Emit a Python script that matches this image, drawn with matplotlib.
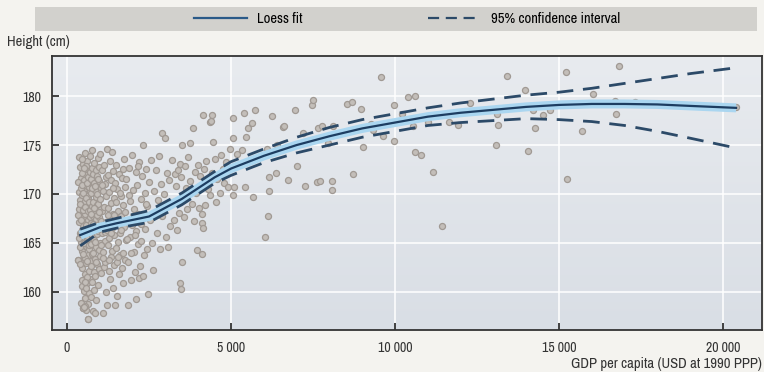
import numpy as np
import matplotlib
matplotlib.use("Agg")
import matplotlib.pyplot as plt
from matplotlib import font_manager
from matplotlib.lines import Line2D
from matplotlib.patches import Rectangle
from matplotlib.ticker import FuncFormatter

# prefer a narrow sans if one happens to be installed
narrow = [f.name for f in font_manager.fontManager.ttflist
          if 'Narrow' in f.name or 'Condensed' in f.name]
plt.rcParams['font.family'] = narrow[:1] + ['Liberation Sans', 'DejaVu Sans']

# ---- scatter data: (GDP per capita, height in cm), grouped by income band ----
pts_poorest = [
    (320, 163.3), (350, 168.5), (360, 170.2), (380, 166.0), (390, 172.8), (400, 169.4),
    (410, 165.1), (420, 171.6), (430, 167.7), (440, 173.6), (450, 160.6), (455, 164.2),
    (460, 169.9), (470, 162.4), (480, 171.0), (485, 166.8), (490, 158.3), (500, 173.1),
    (505, 168.2), (510, 160.1), (520, 165.6), (525, 170.5), (530, 163.1), (540, 167.2),
    (545, 172.3), (550, 174.2), (555, 159.4), (560, 161.8), (565, 169.1), (570, 164.7),
    (575, 171.9), (580, 166.3), (585, 158.1), (590, 162.9), (600, 170.8), (605, 168.6),
    (610, 165.4), (615, 173.4), (620, 160.9), (625, 167.9), (630, 163.8), (640, 171.3),
    (645, 157.2), (650, 169.6), (655, 166.9), (660, 162.1), (665, 172.6), (670, 164.4),
    (675, 159.9), (680, 168.0), (690, 170.3), (695, 165.8), (700, 161.3),
    (340, 171.2), (365, 167.1), (395, 164.6), (425, 170.6), (445, 168.9), (465, 172.1),
    (495, 167.5), (515, 171.4), (535, 169.3), (548, 166.1), (568, 172.9), (588, 167.4),
    (598, 164.9), (618, 169.8), (635, 171.7), (648, 167.3), (662, 170.7), (685, 172.2),
    (372, 173.8), (432, 158.9), (462, 161.2), (508, 163.6), (558, 163.5), (578, 160.4),
    (612, 161.5), (652, 158.8), (688, 163.2), (540, 158.6), (450, 173.6), (500, 158.3),
    (520, 158.5), (650, 157.2), (345, 163.3), (470, 166.3), (600, 166.7), (560, 168.0),
    (330, 167.9), (355, 165.5), (385, 169.0), (405, 162.8), (415, 167.3), (435, 165.9),
    (458, 170.9), (475, 168.4), (488, 163.9), (498, 170.1), (512, 165.0), (528, 172.7),
    (538, 161.0), (552, 168.7), (572, 166.8), (583, 169.6), (594, 171.1), (608, 163.2),
    (622, 165.7), (638, 168.3), (658, 164.8), (672, 169.2), (692, 167.6),
]

pts_low = [
    (705, 173.9), (710, 168.4), (715, 164.9), (720, 171.5), (725, 162.6), (730, 167.0),
    (735, 170.1), (740, 159.5), (745, 165.7), (750, 172.7), (755, 168.8), (760, 163.9),
    (765, 161.0), (770, 174.5), (775, 166.4), (780, 170.9), (785, 158.0), (790, 169.2),
    (795, 164.0), (800, 172.0), (805, 167.8), (810, 162.0), (815, 160.2), (820, 171.1),
    (825, 165.3), (830, 173.2), (835, 168.1), (840, 163.4), (845, 170.4), (850, 157.8),
    (855, 166.6), (860, 161.6), (870, 169.7), (875, 172.4), (880, 164.6), (885, 167.4),
    (890, 159.2), (900, 171.8), (905, 165.9), (910, 170.0), (920, 162.8), (925, 168.9),
    (930, 173.7), (940, 166.2), (945, 160.7), (950, 169.0), (960, 164.3), (965, 171.3),
    (970, 167.6), (980, 162.3), (985, 172.8), (990, 165.0), (1000, 169.5), (1010, 174.1),
    (1015, 163.7), (1020, 167.2), (1030, 170.6), (1040, 161.9), (1050, 166.0), (1060, 172.5),
    (1070, 168.3), (1080, 164.1), (1090, 157.8), (1100, 170.3), (1110, 166.8), (1120, 173.0),
    (1130, 162.5), (1140, 168.7), (1150, 165.2), (1160, 171.0), (1170, 163.0), (1180, 167.1),
    (1190, 169.8), (1200, 160.0),
    (712, 166.2), (738, 168.0), (762, 170.6), (788, 166.9), (812, 168.6), (838, 165.1),
    (862, 170.8), (888, 163.1), (912, 167.9), (938, 171.5), (962, 168.2), (988, 166.4),
    (1025, 164.8), (1065, 170.9), (1105, 163.5), (1145, 166.1), (1185, 171.7),
    (1210, 174.6), (1220, 166.3), (1230, 158.7), (1240, 171.9), (1250, 164.8), (1260, 168.6),
    (1270, 162.1), (1280, 170.2), (1290, 165.5), (1300, 173.4), (1310, 167.0), (1320, 161.3),
    (1330, 169.1), (1340, 163.6), (1350, 171.4), (1360, 166.5), (1370, 174.3), (1380, 164.2),
    (1390, 168.0), (1400, 160.4), (1410, 172.3), (1420, 165.8), (1430, 169.6), (1440, 162.7),
    (1450, 167.4), (1460, 158.7), (1470, 171.1), (1480, 164.5), (1490, 166.9), (1500, 173.0),
    (1515, 159.6), (1520, 163.0), (1530, 170.5), (1545, 165.1), (1560, 168.3), (1575, 161.8),
    (1590, 172.0), (1600, 166.0), (1615, 163.8), (1630, 169.8), (1645, 167.7), (1660, 162.4),
    (1675, 171.6), (1690, 164.0), (1700, 168.9), (1715, 160.9), (1730, 166.6), (1745, 173.6),
    (1760, 163.3), (1775, 170.7), (1790, 165.3),
    (1235, 167.9), (1285, 163.3), (1335, 166.0), (1385, 170.6), (1435, 167.9), (1485, 169.2),
    (1555, 163.6), (1605, 170.1), (1655, 166.3), (1705, 172.6), (1755, 168.2),
]

pts_lower_mid = [
    (1810, 171.5), (1830, 167.2), (1850, 163.1), (1870, 158.7), (1890, 172.7), (1910, 165.6),
    (1930, 169.3), (1950, 161.2), (1970, 174.0), (1990, 166.8), (2010, 170.4), (2030, 164.1),
    (2050, 168.5), (2070, 162.0), (2090, 172.2), (2100, 159.3), (2110, 166.2), (2130, 170.9),
    (2150, 164.9), (2170, 168.0), (2190, 173.3), (2200, 161.4), (2220, 162.6), (2240, 169.5),
    (2260, 165.2), (2280, 171.8), (2300, 167.5), (2330, 175.0), (2350, 163.8), (2370, 170.1),
    (2390, 166.4), (2410, 172.6), (2430, 164.4), (2450, 168.8), (2480, 159.8), (2490, 171.2),
    (1820, 165.4), (1880, 169.9), (1940, 164.0), (2020, 167.8), (2080, 165.8), (2160, 172.9),
    (2250, 166.9), (2320, 161.6), (2400, 169.0),
    (2520, 167.3), (2550, 173.5), (2580, 165.0), (2630, 162.2), (2650, 170.3), (2680, 168.1),
    (2700, 172.4), (2730, 166.0), (2760, 169.4), (2790, 173.9), (2820, 164.4), (2850, 171.0),
    (2890, 176.2), (2900, 167.7), (2940, 170.0), (2990, 175.7), (3010, 165.6), (3040, 172.1),
    (3060, 168.9), (3090, 164.6), (3120, 171.4), (3150, 166.7), (3190, 173.5), (3220, 169.2),
    (3250, 167.3), (3280, 172.0),
    (3320, 170.8), (3350, 166.3), (3380, 172.5), (3400, 168.1), (3450, 173.1), (3450, 160.9),
    (3460, 160.3), (3480, 171.7), (3500, 163.0), (3500, 175.0), (3530, 169.5), (3560, 167.6),
    (3600, 172.9), (3630, 170.6), (3660, 168.5), (3700, 173.8), (3750, 175.2), (3760, 171.3),
    (3800, 169.0), (3850, 176.7), (3860, 167.2), (3900, 172.2), (3940, 170.1), (3970, 164.3),
    (3990, 173.0), (4020, 168.6), (4060, 171.8), (4100, 163.9), (4120, 168.0), (4120, 167.0),
    (4140, 178.1), (4150, 166.5), (4170, 172.6),
]

pts_upper_mid = [
    (4210, 168.9), (4250, 173.4), (4300, 170.5), (4360, 177.4), (4360, 169.9), (4380, 177.5),
    (4410, 178.1), (4420, 172.1), (4460, 175.3), (4500, 173.6), (4540, 169.2), (4580, 171.5),
    (4660, 170.1), (4700, 174.0), (4760, 172.6), (4800, 171.1), (4850, 173.3), (4900, 170.7),
    (4960, 174.6), (5050, 177.8), (5070, 175.7), (5070, 169.9), (5100, 170.7), (5190, 174.1),
    (5330, 174.5), (5380, 178.3), (5430, 170.7), (5460, 175.8), (5530, 176.7), (5630, 177.3),
    (5680, 169.7), (5730, 178.6), (6040, 165.6), (6090, 174.6), (6140, 167.8), (6170, 171.7),
    (6170, 170.3), (6240, 178.0), (6370, 172.1), (6390, 175.0), (6580, 176.8), (6600, 176.9),
    (6750, 171.4), (6950, 178.6), (7020, 172.9), (7200, 176.2), (7260, 170.8), (7460, 179.1),
    (7490, 179.6), (7610, 171.2), (7660, 176.7), (7710, 171.3), (7760, 176.9), (7970, 175.2),
    (8070, 171.3), (8070, 170.4), (8120, 176.9), (8550, 179.2), (8680, 179.4), (8710, 172.0),
    (8950, 178.7), (9020, 174.8), (9260, 177.2), (9340, 176.5), (9570, 182.0), (9640, 175.9),
    (9970, 179.1), (9970, 175.4),
]

pts_rich = [
    (10200, 178.2), (10410, 179.9), (10560, 176.9), (10610, 180.0), (10610, 174.3), (10780, 174.0),
    (11020, 177.4), (11170, 172.2), (11420, 166.7), (11660, 177.4), (11930, 177.0), (12290, 179.3),
    (13080, 175.0), (13100, 178.2), (13150, 177.1), (13400, 182.1), (13960, 180.6), (14060, 174.4),
    (14220, 178.6), (14270, 176.7), (14520, 178.1), (14730, 178.6), (15210, 182.5), (15250, 171.5),
    (15690, 176.4), (16050, 180.2), (16710, 179.5), (16740, 178.2), (16840, 183.1), (17320, 179.4),
    (20400, 178.9),
]

# ---- loess fit and 95% confidence band ----
fit_gdp = [400, 1000, 1500, 2000, 2500, 3000, 3500, 4000, 4500, 5000, 6000, 7000, 8000,
           9000, 10000, 11000, 12000, 13000, 14000, 15000, 16000, 17000, 18000, 19000, 20400]
fit_height = [165.8, 166.6, 167.0, 167.35, 167.7, 168.6, 169.5, 170.6, 171.7, 172.6, 173.9,
              175.0, 175.9, 176.7, 177.3, 177.9, 178.3, 178.6, 178.9, 179.1, 179.2, 179.2,
              179.15, 179.0, 178.8]
ci_upper = [166.4, 167.1, 167.5, 167.9, 168.3, 169.2, 170.1, 171.2, 172.3, 173.3, 174.6,
            175.8, 176.8, 177.6, 178.2, 178.8, 179.3, 179.7, 180.1, 180.4, 180.8, 181.3,
            181.8, 182.3, 182.9]
ci_lower = [164.7, 166.1, 166.5, 166.8, 167.1, 168.0, 168.9, 170.0, 171.1, 171.9, 173.2,
            174.2, 175.0, 175.8, 176.4, 177.0, 177.3, 177.5, 177.7, 177.6, 177.4, 177.0,
            176.4, 175.7, 174.7]

x_ticks = [0, 5000, 10000, 15000, 20000]
y_ticks = [160, 165, 170, 175, 180]

# ==============================================================================

all_pts = pts_poorest + pts_low + pts_lower_mid + pts_upper_mid + pts_rich
gdp = np.array([p[0] for p in all_pts])
height = np.array([p[1] for p in all_pts])

fig = plt.figure(figsize=(7.64, 3.72), dpi=100, facecolor='#f4f3ef')
ax = fig.add_axes([52 / 764, 42 / 372, 710 / 764, 274 / 372])

# soft gradient background of the plot area (lighter at the top)
grad = np.linspace(0, 1, 256).reshape(-1, 1)
bg_cmap = matplotlib.colors.LinearSegmentedColormap.from_list('bg', ['#e8ebef', '#d9dee5'])
ax.imshow(grad, cmap=bg_cmap, extent=[0, 1, 0, 1], origin='upper',
          transform=ax.transAxes, aspect='auto', zorder=0)

ax.scatter(gdp, height, s=19, facecolor='#c3beb9', edgecolor='#a09993',
           linewidth=0.9, zorder=3)

# light halo under the fit, then the lines
ax.plot(fit_gdp, fit_height, color='#aad6f0', lw=6.5, solid_capstyle='butt', zorder=4)
ax.plot(fit_gdp, ci_upper, color='#2c4a68', lw=2, dashes=(6, 3.5), zorder=5)
ax.plot(fit_gdp, ci_lower, color='#2c4a68', lw=2, dashes=(6, 3.5), zorder=5)
ax.plot(fit_gdp, fit_height, color='#1d3d61', lw=1.6, zorder=6)

ax.set_xlim(-460, 21190)
ax.set_ylim(156.1, 184.1)
ax.set_xticks(x_ticks)
ax.set_yticks(y_ticks)
ax.xaxis.set_major_formatter(FuncFormatter(lambda v, p: f"{int(v):,}".replace(',', ' ')))
ax.grid(True, color='white', lw=1.1, zorder=1)
ax.set_axisbelow(True)
ax.tick_params(direction='in', length=5, width=1.2, colors='#222222',
               labelsize=10, labelcolor='#333333', pad=8)
for sp in ax.spines.values():
    sp.set_color('#333333')
    sp.set_linewidth(1.3)

# legend band at the top
fig.patches.append(Rectangle((35 / 764, 1 - 31 / 372), 722 / 764, 24 / 372,
                             transform=fig.transFigure, facecolor='#d2d1cd',
                             edgecolor='none', zorder=0))
handles = [Line2D([], [], color='#2a5a88', lw=1.6),
           Line2D([], [], color='#2c4a68', lw=1.6, dashes=(5, 3))]
fig.legend(handles, ['Loess fit', '95% confidence interval'], loc='center',
           bbox_to_anchor=(0.533, 1 - 19 / 372), ncol=2, frameon=False,
           fontsize=10.5, handlelength=3.6, columnspacing=8.6, handletextpad=0.7)

fig.text(7 / 764, 1 - 42 / 372, 'Height (cm)', fontsize=10.5, color='#333333',
         va='center', ha='left')
fig.text(762 / 764, 1 - 364 / 372, 'GDP per capita (USD at 1990 PPP)', fontsize=10.5,
         color='#333333', va='center', ha='right')

fig.savefig('out.png', dpi=100, facecolor=fig.get_facecolor())
